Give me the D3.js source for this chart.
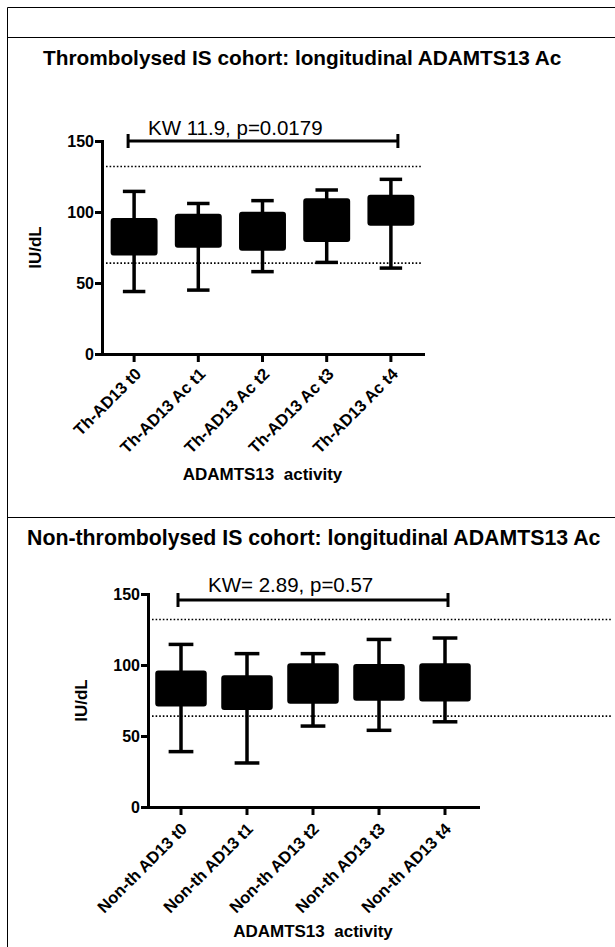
<!DOCTYPE html>
<html>
<head>
<meta charset="utf-8">
<script src="https://cdn.jsdelivr.net/npm/d3@7"></script>
<style>
    body { margin: 0; background: #fff; }
    svg { display: block; }
    text { font-family: "Liberation Sans", Arial, sans-serif; fill: #000; }
</style>
</head>
<body>
<div id="chart"></div>
<script>
// ---- data ----
const topCategories = ['Th-AD13 t0', 'Th-AD13 Ac t1', 'Th-AD13 Ac t2', 'Th-AD13 Ac t3', 'Th-AD13 Ac t4'];
const topWhiskerLow = [44, 45, 58, 64.5, 60.5];
const topQ1 = [70, 75.5, 73.5, 79.5, 91];
const topQ3 = [95, 98, 99.5, 109, 111.5];
const topWhiskerHigh = [114.5, 106, 108, 115.5, 123];

const bottomCategories = ['Non-th AD13 t0', 'Non-th AD13 t1', 'Non-th AD13 t2', 'Non-th AD13 t3', 'Non-th AD13 t4'];
const bottomWhiskerLow = [39, 31, 57, 54, 60];
const bottomQ1 = [71.5, 69, 73.5, 75.5, 75];
const bottomQ3 = [95.5, 92, 100.5, 100, 100.5];
const bottomWhiskerHigh = [114.5, 108, 108, 118, 119];

const referenceLines = [64, 132];
const yTicks = [0, 50, 100, 150];
const yDomain = [0, 150];

const titles = ['Thrombolysed IS cohort: longitudinal ADAMTS13 Ac',
                'Non-thrombolysed IS cohort: longitudinal ADAMTS13 Ac'];
const kwLabels = ['KW 11.9, p=0.0179', 'KW= 2.89, p=0.57'];
const yLabel = 'IU/dL';
const xLabel = 'ADAMTS13  activity';

// ---- layout (pixels) ----
const W = 615, H = 947;
const panels = [
    {
        title: titles[0], titleX: 43, titleY: 65, titleSize: 20.8,
        kw: kwLabels[0], kwX: 148, kwY: 135,
        categories: topCategories, lo: topWhiskerLow, q1: topQ1, q3: topQ3, hi: topWhiskerHigh,
        left: 102, right: 423, top: 141, bottom: 354, padding: 0.3,
        refX: [106, 422], bracketY: 141, bracketPad: [-6, 7],
        labelShift: [4, 17], xTitleY: 480
    },
    {
        title: titles[1], titleX: 27, titleY: 545, titleSize: 21.3,
        kw: kwLabels[1], kwX: 208, kwY: 592,
        categories: bottomCategories, lo: bottomWhiskerLow, q1: bottomQ1, q3: bottomQ3, hi: bottomWhiskerHigh,
        left: 148, right: 478, top: 594, bottom: 807, padding: 0.25,
        refX: [152, 612], bracketY: 600, bracketPad: [-3, 3],
        labelShift: [3, 19], xTitleY: 937
    }
];

const svg = d3.select('#chart').append('svg')
    .attr('width', W)
    .attr('height', H);

// table frame
const frame = svg.append('g').attr('stroke', '#000').attr('stroke-width', 1);
frame.append('line').attr('x1', 7.5).attr('x2', 7.5).attr('y1', 7.5).attr('y2', H);
[7.5, 37.5, 517.5].forEach(y => {
    frame.append('line').attr('x1', 7.5).attr('x2', W).attr('y1', y).attr('y2', y);
});

function drawPanel(p) {
    const g = svg.append('g');

    const x = d3.scaleBand()
        .domain(p.categories)
        .range([p.left, p.right])
        .paddingInner(p.padding)
        .paddingOuter(p.padding / 2);

    const y = d3.scaleLinear()
        .domain(yDomain)
        .range([p.bottom, p.top]);

    const bw = x.bandwidth();
    const cx = c => x(c) + bw / 2;

    // title
    g.append('text')
        .attr('x', p.titleX)
        .attr('y', p.titleY)
        .attr('font-size', p.titleSize + 'px')
        .attr('font-weight', 'bold')
        .text(p.title);

    // dotted reference range
    g.selectAll('.ref')
        .data(referenceLines)
        .enter().append('line')
        .attr('class', 'ref')
        .attr('x1', p.refX[0])
        .attr('x2', p.refX[1])
        .attr('y1', d => y(d))
        .attr('y2', d => y(d))
        .attr('stroke', '#000')
        .attr('stroke-width', 1.6)
        .attr('stroke-dasharray', '1.6,2');

    // box plots
    const rows = p.categories.map((c, i) => ({
        cat: c, lo: p.lo[i], q1: p.q1[i], q3: p.q3[i], hi: p.hi[i]
    }));
    const box = g.selectAll('.box')
        .data(rows)
        .enter().append('g')
        .attr('class', 'box');

    box.append('line')
        .attr('x1', d => cx(d.cat)).attr('x2', d => cx(d.cat))
        .attr('y1', d => y(d.lo)).attr('y2', d => y(d.hi))
        .attr('stroke', '#000').attr('stroke-width', 3.5);

    box.selectAll('.cap')
        .data(d => [d.lo, d.hi].map(v => ({ cat: d.cat, v: v })))
        .enter().append('line')
        .attr('class', 'cap')
        .attr('x1', d => cx(d.cat) - bw * 0.25)
        .attr('x2', d => cx(d.cat) + bw * 0.25)
        .attr('y1', d => y(d.v)).attr('y2', d => y(d.v))
        .attr('stroke', '#000').attr('stroke-width', 3.5);

    box.append('rect')
        .attr('x', d => x(d.cat))
        .attr('y', d => y(d.q3))
        .attr('width', bw)
        .attr('height', d => y(d.q1) - y(d.q3))
        .attr('rx', 2)
        .attr('fill', '#000')
        .attr('stroke', '#000')
        .attr('stroke-width', 2);

    // Kruskal-Wallis bracket
    const bx0 = cx(p.categories[0]) + p.bracketPad[0];
    const bx1 = cx(p.categories[p.categories.length - 1]) + p.bracketPad[1];
    const br = g.append('g').attr('stroke', '#000').attr('stroke-width', 3);
    br.append('line').attr('x1', bx0).attr('x2', bx1).attr('y1', p.bracketY).attr('y2', p.bracketY);
    [bx0, bx1].forEach(bx => {
        br.append('line').attr('x1', bx).attr('x2', bx)
            .attr('y1', p.bracketY - 7).attr('y2', p.bracketY + 7);
    });
    g.append('text')
        .attr('x', p.kwX)
        .attr('y', p.kwY)
        .attr('font-size', '20.5px')
        .attr('fill', '#111')
        .text(p.kw);

    // y axis
    const yAxis = g.append('g')
        .attr('transform', `translate(${p.left},0)`)
        .call(d3.axisLeft(y).tickValues(yTicks).tickSize(7).tickSizeOuter(0).tickPadding(1));

    // x axis
    const xAxis = g.append('g')
        .attr('transform', `translate(0,${p.bottom})`)
        .call(d3.axisBottom(x).tickSize(8).tickSizeOuter(0));

    [yAxis, xAxis].forEach(ax => {
        ax.select('.domain').attr('stroke-width', 3).attr('stroke-linecap', 'square');
        ax.selectAll('.tick line').attr('stroke-width', 3);
        ax.selectAll('text')
            .attr('font-family', '"Liberation Sans", Arial, sans-serif')
            .attr('font-weight', 'bold')
            .attr('fill', '#000');
    });
    yAxis.selectAll('text').attr('font-size', '16px');
    xAxis.selectAll('text')
        .attr('font-size', '16.5px')
        .attr('x', 0)
        .attr('y', 0)
        .attr('dy', '0.35em')
        .attr('text-anchor', 'end')
        .attr('transform', `translate(${p.labelShift[0]},${p.labelShift[1]}) rotate(-45)`);

    // axis titles
    g.append('text')
        .attr('transform', `translate(${p.left - 61},${(p.top + p.bottom) / 2}) rotate(-90)`)
        .attr('text-anchor', 'middle')
        .attr('font-size', '17px')
        .attr('font-weight', 'bold')
        .text(yLabel);

    g.append('text')
        .attr('x', (p.left + p.right) / 2)
        .attr('y', p.xTitleY)
        .attr('text-anchor', 'middle')
        .attr('font-size', '17px')
        .attr('font-weight', 'bold')
        .style('white-space', 'pre')
        .text(xLabel);
}

panels.forEach(drawPanel);
</script>
</body>
</html>
